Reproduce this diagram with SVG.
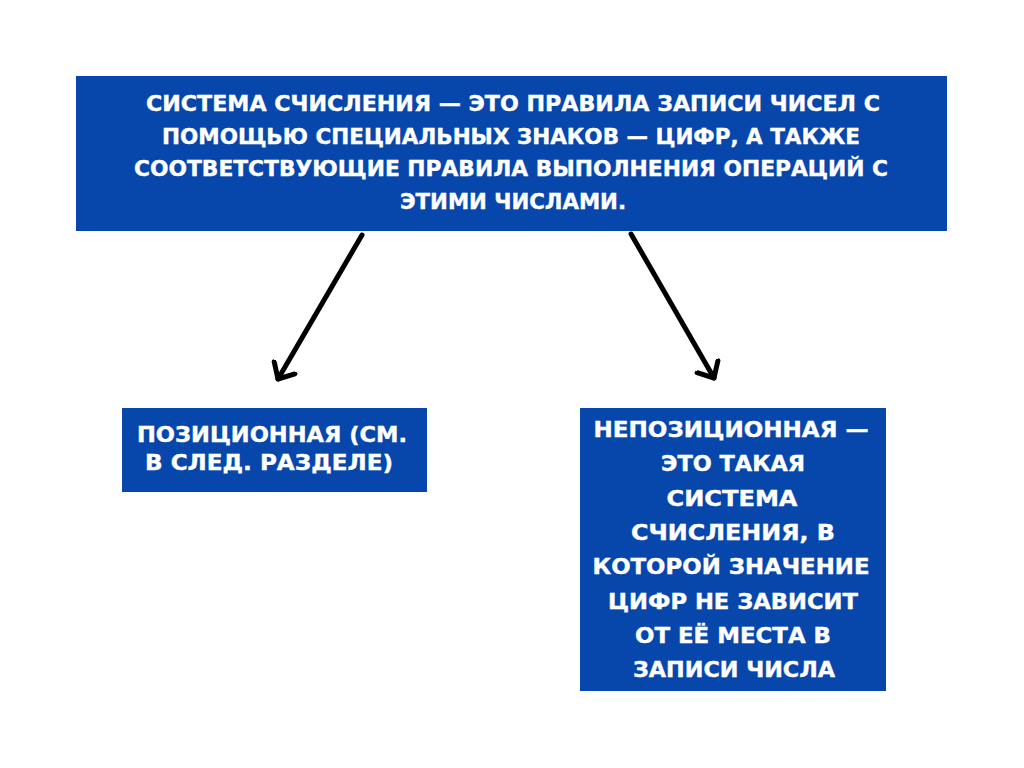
<svg xmlns="http://www.w3.org/2000/svg" width="1024" height="768" viewBox="0 0 1024 768">
<style>
.box{fill:#0747ab}
.t{font-family:"DejaVu Sans","Liberation Sans",sans-serif;font-weight:bold;font-size:22px;fill:#ffffff;stroke:#ffffff;stroke-width:0.4;text-anchor:middle}
.c{stroke:#000;stroke-width:5;stroke-linecap:round;fill:none}
</style>
<defs>
<marker id="arr" markerUnits="userSpaceOnUse" markerWidth="30" markerHeight="30" refX="15" refY="15" orient="auto" viewBox="0 0 30 30">
<path d="M2,3 L15,15 L2,27" fill="none" stroke="#000" stroke-width="5" stroke-linecap="round" stroke-linejoin="round"/>
</marker>
</defs>
<rect width="1024" height="768" fill="#ffffff"/>
<g id="definition">
<rect class="box" x="76" y="76" width="871" height="155"/>
<text class="t" x="513" y="111" textLength="734" lengthAdjust="spacingAndGlyphs">СИСТЕМА СЧИСЛЕНИЯ — ЭТО ПРАВИЛА ЗАПИСИ ЧИСЕЛ С</text>
<text class="t" x="511" y="144" textLength="698" lengthAdjust="spacingAndGlyphs">ПОМОЩЬЮ СПЕЦИАЛЬНЫХ ЗНАКОВ — ЦИФР, А ТАКЖЕ</text>
<text class="t" x="511" y="176" textLength="754" lengthAdjust="spacingAndGlyphs">СООТВЕТСТВУЮЩИЕ ПРАВИЛА ВЫПОЛНЕНИЯ ОПЕРАЦИЙ С</text>
<text class="t" x="513" y="209" textLength="226" lengthAdjust="spacingAndGlyphs">ЭТИМИ ЧИСЛАМИ.</text>
</g>
<g id="positional">
<rect class="box" x="122" y="408" width="305" height="84"/>
<text class="t" x="272" y="442" textLength="270" lengthAdjust="spacingAndGlyphs">ПОЗИЦИОННАЯ (СМ.</text>
<text class="t" x="269" y="470" textLength="248" lengthAdjust="spacingAndGlyphs">В СЛЕД. РАЗДЕЛЕ)</text>
</g>
<g id="nonpositional">
<rect class="box" x="580" y="408" width="306" height="283"/>
<text class="t" x="731" y="437" textLength="275" lengthAdjust="spacingAndGlyphs">НЕПОЗИЦИОННАЯ —</text>
<text class="t" x="733" y="471" textLength="144" lengthAdjust="spacingAndGlyphs">ЭТО ТАКАЯ</text>
<text class="t" x="732" y="506" textLength="131" lengthAdjust="spacingAndGlyphs">СИСТЕМА</text>
<text class="t" x="733" y="540" textLength="204" lengthAdjust="spacingAndGlyphs">СЧИСЛЕНИЯ, В</text>
<text class="t" x="731" y="574" textLength="277" lengthAdjust="spacingAndGlyphs">КОТОРОЙ ЗНАЧЕНИЕ</text>
<text class="t" x="733" y="609" textLength="250" lengthAdjust="spacingAndGlyphs">ЦИФР НЕ ЗАВИСИТ</text>
<text class="t" x="733" y="643" textLength="196" lengthAdjust="spacingAndGlyphs">ОТ ЕЁ МЕСТА В</text>
<text class="t" x="734" y="677" textLength="202" lengthAdjust="spacingAndGlyphs">ЗАПИСИ ЧИСЛА</text>
</g>
<g id="connectors">
<path class="c" d="M362,235 L278,379" marker-end="url(#arr)"/>
<path class="c" d="M631,234 L714,378" marker-end="url(#arr)"/>
</g>
</svg>
